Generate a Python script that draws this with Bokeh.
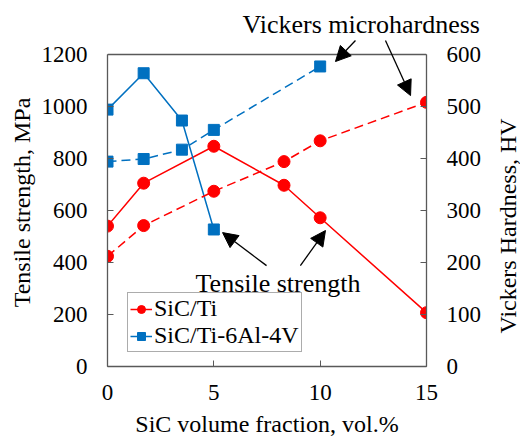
import math
from bokeh.plotting import figure
from bokeh.layouts import row
from bokeh.models import (Range1d, LinearAxis, FixedTicker, Legend, LegendItem,
                          Arrow, NormalHead, Label, Span, Title)
from bokeh.embed import file_html
from bokeh.resources import INLINE

# ---- data ----
x_ti = [0, 1.7, 5, 8.3, 10, 15]
ts_ti = [540, 705, 847, 697, 572, 207]          # MPa
hv_ti = [212, 271, 337, 394, 434, 508]          # HV

x_tc4_ts = [0, 1.7, 3.5, 5]
ts_tc4 = [988, 1128, 946, 527]                  # MPa
x_tc4_hv = [0, 1.7, 3.5, 5, 10]
hv_tc4 = [394, 399, 417, 455, 577]              # HV

x_ticks = [0, 5, 10, 15]
ts_ticks = [0, 200, 400, 600, 800, 1000, 1200]
hv_ticks = [0, 100, 200, 300, 400, 500, 600]
TS_MAX = 1200
HV_MAX = 600

RED = "#FF0000"
BLUE = "#0070C0"
AX = "#595959"
FONT = "Liberation Serif"
DASH = "9 5"

# frame is extended a little above the 1200 line so the arrows above the box can be drawn
FRAME_H = 328
TOP_EXTRA = FRAME_H / 312.0
TOP_B = 38
BOT_B = 79

p = figure(frame_width=319, frame_height=FRAME_H, min_border_left=107, min_border_right=66,
           min_border_top=TOP_B, min_border_bottom=BOT_B,
           x_range=Range1d(0, 15), y_range=Range1d(0, TS_MAX * TOP_EXTRA),
           output_backend="svg", toolbar_location=None,
           background_fill_color="white", border_fill_color="white",
           title="Vickers microhardness")
p.extra_y_ranges = {"hv": Range1d(0, HV_MAX * TOP_EXTRA)}
p.grid.visible = False
p.outline_line_color = None

p.title.align = "left"
p.title.offset = 135
p.title.standoff = 0
p.title.text_font = FONT
p.title.text_font_size = "26px"
p.title.text_font_style = "normal"
p.title.text_color = "black"

hv_axis = LinearAxis(y_range_name="hv")
p.add_layout(hv_axis, "right")

p.xaxis.ticker = FixedTicker(ticks=x_ticks)
p.yaxis[0].ticker = FixedTicker(ticks=ts_ticks)
p.yaxis[0].bounds = (0, TS_MAX)
hv_axis.ticker = FixedTicker(ticks=hv_ticks)
hv_axis.bounds = (0, HV_MAX)
p.xaxis.axis_label = "SiC volume fraction, vol.%"
p.yaxis[0].axis_label = "Tensile strength, MPa"

for ax in [p.xaxis[0], p.yaxis[0], hv_axis]:
    ax.axis_line_color = AX
    ax.axis_line_width = 1.3
    ax.major_tick_line_color = AX
    ax.major_tick_in = 6
    ax.major_tick_out = 0
    ax.minor_tick_line_color = None
    ax.major_label_text_font = FONT
    ax.major_label_text_font_size = "23px"
    ax.major_label_text_color = "black"
    ax.axis_label_text_font = FONT
    ax.axis_label_text_font_size = "24px"
    ax.axis_label_text_font_style = "normal"
    ax.axis_label_text_color = "black"
    ax.major_label_standoff = 20
    ax.axis_label_standoff = 4
p.xaxis.major_label_standoff = 18
p.xaxis.axis_label_standoff = 8

# top border of the box at 1200 MPa
p.add_layout(Span(location=TS_MAX, dimension="width", line_color=AX, line_width=1.3))

# tensile strength (solid)
l1 = p.line(x_ti, ts_ti, line_color=RED, line_width=1.5)
s1 = p.scatter(x_ti, ts_ti, marker="circle", size=12, fill_color=RED, line_color=RED)
l2 = p.line(x_tc4_ts, ts_tc4, line_color=BLUE, line_width=1.5)
s2 = p.scatter(x_tc4_ts, ts_tc4, marker="square", size=11, fill_color=BLUE, line_color=BLUE)

# hardness (dashed)
p.line(x_ti, hv_ti, line_color=RED, line_width=1.5, line_dash=DASH, y_range_name="hv")
p.scatter(x_ti, hv_ti, marker="circle", size=12, fill_color=RED, line_color=RED, y_range_name="hv")
p.line(x_tc4_hv, hv_tc4, line_color=BLUE, line_width=1.5, line_dash=DASH, y_range_name="hv")
p.scatter(x_tc4_hv, hv_tc4, marker="square", size=11, fill_color=BLUE, line_color=BLUE, y_range_name="hv")

legend = Legend(items=[LegendItem(label="SiC/Ti", renderers=[l1, s1]),
                       LegendItem(label="SiC/Ti-6Al-4V", renderers=[l2, s2])],
                location=(20, 14), orientation="vertical",
                label_text_font=FONT, label_text_font_size="24px",
                label_text_color="black", label_text_line_height=1.0,
                glyph_width=22, glyph_height=20, label_standoff=2,
                label_height=25, spacing=0, padding=2, margin=0,
                border_line_color=AX, border_line_width=1.3,
                background_fill_color="white", background_fill_alpha=1.0)
p.add_layout(legend)

# annotation arrows
head = dict(size=15, fill_color="black", line_color="black")
for (xs, ys, xe, ye) in [(11.66, 1254, 10.72, 1173), (13.07, 1254, 14.25, 1042),
                         (7.48, 388, 5.41, 515), (9.07, 388, 10.25, 523)]:
    p.add_layout(Arrow(x_start=xs, y_start=ys, x_end=xe, y_end=ye,
                       line_color="black", line_width=1.3,
                       end=NormalHead(**head)))

p.add_layout(Label(x=4.14, y=320, text="Tensile strength", text_font=FONT,
                   text_font_size="26px", text_color="black", text_baseline="alphabetic"))

# right-hand axis title (reads bottom-to-top), drawn as a left title of a narrow strip
side = figure(frame_width=1, frame_height=FRAME_H, min_border_left=27, min_border_right=0,
              min_border_top=TOP_B, min_border_bottom=BOT_B,
              x_axis_location=None, y_axis_location=None,
              output_backend="svg", toolbar_location=None,
              background_fill_color="white", border_fill_color="white")
side.grid.visible = False
side.outline_line_color = None
side.add_layout(Title(text="Vickers Hardness, HV", align="left", offset=33, standoff=0,
                      text_font=FONT, text_font_size="24px", text_font_style="normal",
                      text_color="black"), "left")

layout = row(p, side, spacing=0)
open("out.html", "w").write(file_html(layout, INLINE))
